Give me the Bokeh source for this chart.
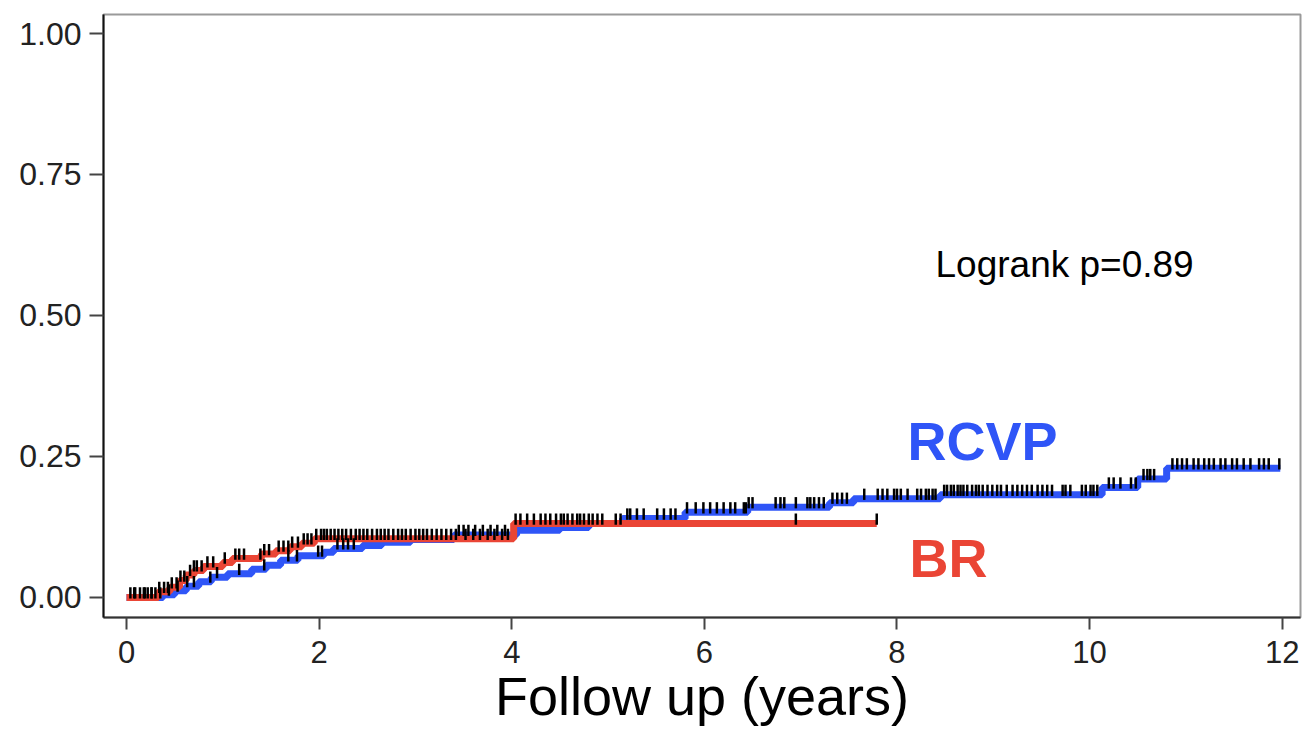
import numpy as np
from bokeh.plotting import figure
from bokeh.models import Label, FixedTicker, Range1d, ColumnDataSource
from bokeh.embed import file_html
from bokeh.resources import INLINE

# ---------------- data ----------------
rcvp_time = [0.0, 0.38, 0.50, 0.62, 0.75, 0.88, 1.05, 1.30, 1.45, 1.60, 1.78, 2.05, 2.15, 2.45,
             2.65, 2.95, 3.40, 4.05, 4.50, 4.80, 5.15, 5.80, 6.45, 7.30, 7.55, 8.45, 10.13,
             10.50, 10.80, 11.98]
rcvp_cum = [0.0, 0.005, 0.012, 0.020, 0.028, 0.036, 0.042, 0.050, 0.057, 0.066, 0.074, 0.080,
            0.087, 0.092, 0.098, 0.103, 0.111, 0.119, 0.124, 0.131, 0.140, 0.151, 0.160, 0.168,
            0.175, 0.182, 0.195, 0.210, 0.229, 0.229]

br_time = [0.0, 0.33, 0.45, 0.55, 0.62, 0.70, 0.80, 1.00, 1.10, 1.40, 1.55, 1.70, 1.82, 1.95,
           4.02, 7.79]
br_cum = [0.0, 0.010, 0.018, 0.030, 0.040, 0.048, 0.055, 0.062, 0.069, 0.077, 0.083, 0.090,
          0.096, 0.104, 0.131, 0.131]

br_censor = [0.04, 0.08, 0.14, 0.19, 0.22, 0.26, 0.30, 0.34, 0.39, 0.43, 0.47, 0.52, 0.56, 0.60,
             0.66, 0.70, 0.73, 0.78, 0.84, 0.90, 1.02, 1.13, 1.17, 1.22, 1.39, 1.43, 1.48, 1.58,
             1.63, 1.68, 1.72, 1.78, 1.84, 1.88, 1.92, 1.97, 2.02, 2.05, 2.08, 2.12, 2.16, 2.20,
             2.24, 2.28, 2.33, 2.38, 2.42, 2.46, 2.50, 2.55, 2.60, 2.64, 2.68, 2.72, 2.77, 2.82,
             2.86, 2.90, 2.95, 3.00, 3.04, 3.08, 3.12, 3.17, 3.22, 3.27, 3.32, 3.37, 3.42, 3.52,
             3.60, 3.67, 3.75, 3.82, 3.90, 3.96, 4.04, 4.09, 4.16, 4.23, 4.30, 4.35, 4.40, 4.46,
             4.51, 4.54, 4.58, 4.63, 4.68, 4.71, 4.75, 4.80, 4.84, 4.89, 4.94, 6.95, 7.79]

rcvp_censor = [0.09, 0.18, 0.26, 0.35, 0.44, 0.53, 0.63, 0.70, 0.87, 0.94, 1.17, 1.43, 1.68, 1.77,
               1.99, 2.03, 2.19, 2.25, 2.30, 2.36, 3.45, 3.50, 3.55, 3.62, 3.70, 3.78, 3.85, 3.93,
               5.08, 5.13, 5.20, 5.23, 5.30, 5.37, 5.51, 5.58, 5.65, 5.70, 5.82, 5.91, 5.99, 6.06,
               6.13, 6.20, 6.27, 6.32, 6.41, 6.43, 6.46, 6.50, 6.74, 6.79, 6.83, 6.95, 7.07, 7.10,
               7.14, 7.19, 7.24, 7.33, 7.38, 7.43, 7.48, 7.66, 7.80, 7.85, 7.90, 7.97, 8.00, 8.04,
               8.11, 8.21, 8.25, 8.30, 8.33, 8.37, 8.40, 8.49, 8.52, 8.56, 8.59, 8.63, 8.66, 8.69,
               8.73, 8.78, 8.82, 8.85, 8.89, 8.94, 8.99, 9.04, 9.08, 9.14, 9.20, 9.25, 9.30, 9.35,
               9.40, 9.46, 9.51, 9.56, 9.61, 9.72, 9.75, 9.80, 9.92, 9.96, 10.01, 10.04, 10.08,
               10.20, 10.25, 10.32, 10.43, 10.48, 10.56, 10.60, 10.63, 10.67, 10.86, 10.91, 10.96,
               11.01, 11.08, 11.13, 11.19, 11.24, 11.29, 11.36, 11.41, 11.48, 11.53, 11.60, 11.67,
               11.76, 11.81, 11.86, 11.97]

x_ticks = [0, 2, 4, 6, 8, 10, 12]
y_ticks = [0.0, 0.25, 0.5, 0.75, 1.0]
y_tick_labels = ["0.00", "0.25", "0.50", "0.75", "1.00"]

x_title = "Follow up (years)"
logrank_text = "Logrank p=0.89"
group_names = ["RCVP", "BR"]

BLUE = "#2f55f7"
RED = "#ea4535"
FONT = "Liberation Sans"


def level_at(times, cums, t):
    times = np.asarray(times)
    cums = np.asarray(cums)
    idx = np.searchsorted(times, np.asarray(t), side="right") - 1
    return cums[np.clip(idx, 0, len(cums) - 1)]


# ---------------- figure ----------------
p = figure(width=1306, height=736, output_backend="svg", toolbar_location=None,
           x_range=Range1d(-0.239, 12.19), y_range=Range1d(-0.0355, 1.0337),
           min_border_left=103, min_border_right=6, min_border_top=14, min_border_bottom=119)
p.background_fill_color = "white"
p.border_fill_color = "white"
p.xgrid.visible = False
p.ygrid.visible = False
p.outline_line_color = "#9a9a9a"
p.outline_line_width = 2

# curves
p.step(rcvp_time, rcvp_cum, mode="after", line_color=BLUE, line_width=7)
p.step(br_time, br_cum, mode="after", line_color=RED, line_width=7)

# censor marks
for cens, tt, cc in [(rcvp_censor, rcvp_time, rcvp_cum), (br_censor, br_time, br_cum)]:
    lv = level_at(tt, cc, cens)
    src = ColumnDataSource(dict(x=cens, y0=lv - 0.002, y1=lv + 0.018))
    p.segment(x0="x", x1="x", y0="y0", y1="y1", source=src, line_color="black", line_width=2.5)

# axes
p.xaxis.ticker = FixedTicker(ticks=x_ticks)
p.yaxis.ticker = FixedTicker(ticks=y_ticks)
p.yaxis.major_label_overrides = {t: l for t, l in zip(y_ticks, y_tick_labels)}
for ax in (p.xaxis[0], p.yaxis[0]):
    ax.minor_tick_line_color = None
    ax.major_tick_in = 0
    ax.major_tick_line_width = 2
    ax.major_tick_line_color = "#444444"
    ax.axis_line_width = 2
    ax.major_label_text_font = FONT
    ax.major_label_text_color = "#222222"
p.xaxis.axis_line_color = "#333333"
p.yaxis.axis_line_color = "#111111"
p.xaxis.major_tick_out = 12
p.yaxis.major_tick_out = 14
p.xaxis.major_label_text_font_size = "31px"
p.yaxis.major_label_text_font_size = "32px"
p.xaxis.major_label_standoff = 11
p.yaxis.major_label_standoff = 8

p.xaxis.axis_label = x_title
p.xaxis.axis_label_text_font = FONT
p.xaxis.axis_label_text_font_size = "54px"
p.xaxis.axis_label_text_font_style = "normal"
p.xaxis.axis_label_text_color = "black"
p.xaxis.axis_label_standoff = 0

# annotations
p.add_layout(Label(x=8.40, y=0.590, text=logrank_text, text_font=FONT, text_font_size="37px",
                   text_color="black", text_baseline="middle"))
p.add_layout(Label(x=8.11, y=0.278, text=group_names[0], text_font=FONT, text_font_size="54px",
                   text_font_style="bold", text_color=BLUE, text_baseline="middle"))
p.add_layout(Label(x=8.13, y=0.070, text=group_names[1], text_font=FONT, text_font_size="54px",
                   text_font_style="bold", text_color=RED, text_baseline="middle"))

open("out.html", "w").write(file_html(p, INLINE))
